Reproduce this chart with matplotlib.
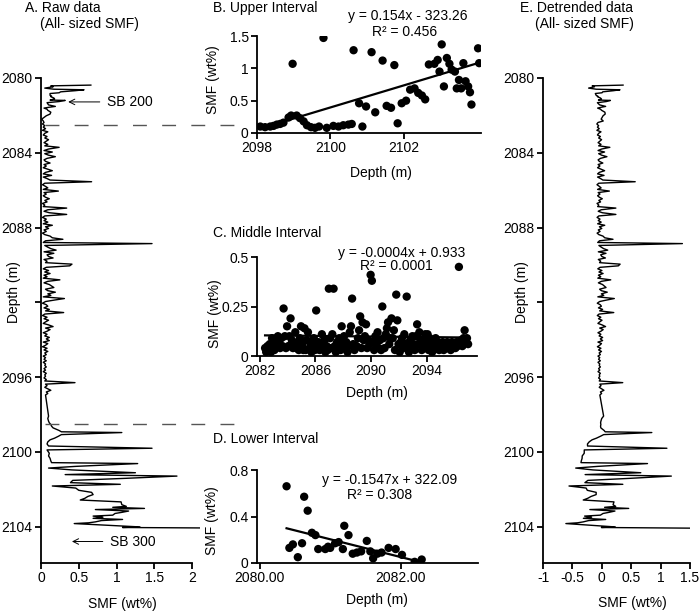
import numpy as np
import matplotlib
matplotlib.use("Agg")
import matplotlib.pyplot as plt

plt.rcParams["font.family"] = ["Liberation Sans", "DejaVu Sans"]
plt.rcParams["font.size"] = 10
plt.rcParams["axes.unicode_minus"] = False

# lower interval (D), depth in m, SMF in wt%
lower_depth = [2080.38, 2080.42, 2080.47, 2080.54, 2080.60, 2080.63, 2080.68, 2080.74, 2080.79,
               2080.83, 2080.93, 2080.97, 2081.00, 2081.07, 2081.12, 2081.18, 2081.20, 2081.26,
               2081.32, 2081.38, 2081.44, 2081.52, 2081.57, 2081.61, 2081.67, 2081.73, 2081.83,
               2081.93, 2082.02, 2082.20, 2082.30]
lower_smf = [0.66, 0.13, 0.16, 0.05, 0.17, 0.57, 0.45, 0.26, 0.24,
             0.12, 0.12, 0.14, 0.13, 0.17, 0.18, 0.12, 0.32, 0.24,
             0.08, 0.09, 0.10, 0.19, 0.10, 0.04, 0.08, 0.09, 0.13,
             0.12, 0.07, 0.01, 0.03]

# middle interval (C)
middle_depth = [2082.38, 2082.46, 2082.55, 2082.63, 2082.71, 2082.80, 2082.88, 2082.96, 2083.05, 2083.13,
                2083.21, 2083.30, 2083.38, 2083.46, 2083.55, 2083.63, 2083.71, 2083.80, 2083.88, 2083.96,
                2084.05, 2084.13, 2084.21, 2084.30, 2084.38, 2084.46, 2084.55, 2084.63, 2084.71, 2084.80,
                2084.88, 2084.96, 2085.05, 2085.13, 2085.21, 2085.30, 2085.38, 2085.46, 2085.55, 2085.63,
                2085.71, 2085.80, 2085.88, 2085.96, 2086.05, 2086.13, 2086.21, 2086.30, 2086.38, 2086.46,
                2086.55, 2086.63, 2086.71, 2086.80, 2086.88, 2086.96, 2087.05, 2087.13, 2087.21, 2087.30,
                2087.38, 2087.46, 2087.55, 2087.63, 2087.71, 2087.80, 2087.88, 2087.96, 2088.05, 2088.13,
                2088.21, 2088.30, 2088.38, 2088.46, 2088.55, 2088.63, 2088.71, 2088.80, 2088.86, 2088.96,
                2089.05, 2089.13, 2089.21, 2089.30, 2089.38, 2089.46, 2089.55, 2089.63, 2089.71, 2089.80,
                2089.88, 2089.96, 2090.05, 2090.13, 2090.21, 2090.30, 2090.38, 2090.46, 2090.55, 2090.63,
                2090.71, 2090.80, 2090.88, 2090.96, 2091.05, 2091.13, 2091.21, 2091.30, 2091.38, 2091.46,
                2091.55, 2091.63, 2091.71, 2091.80, 2091.88, 2091.96, 2092.05, 2092.13, 2092.21, 2092.30,
                2092.38, 2092.46, 2092.55, 2092.63, 2092.71, 2092.80, 2092.88, 2092.96, 2093.05, 2093.13,
                2093.21, 2093.30, 2093.38, 2093.46, 2093.55, 2093.63, 2093.71, 2093.80, 2093.88, 2093.96,
                2094.05, 2094.13, 2094.21, 2094.30, 2094.38, 2094.46, 2094.55, 2094.63, 2094.71, 2094.80,
                2094.88, 2094.96, 2095.05, 2095.13, 2095.21, 2095.30, 2095.38, 2095.46, 2095.55, 2095.63,
                2095.71, 2095.80, 2095.88, 2095.96, 2096.05, 2096.13, 2096.21, 2096.30, 2096.38, 2096.46,
                2096.55, 2096.63, 2096.71, 2096.80, 2096.88, 2096.96]
middle_smf = [0.04, 0.02, 0.05, 0.03, 0.06, 0.02, 0.09, 0.05, 0.03, 0.08,
              0.05, 0.10, 0.07, 0.04, 0.09, 0.05, 0.24, 0.10, 0.04, 0.15,
              0.05, 0.10, 0.19, 0.08, 0.04, 0.06, 0.12, 0.04, 0.07, 0.03,
              0.09, 0.15, 0.06, 0.03, 0.14, 0.03, 0.08, 0.12, 0.67, 0.05,
              0.02, 0.06, 0.09, 0.03, 0.23, 0.04, 0.07, 0.03, 0.06, 0.11,
              0.05, 0.08, 0.02, 0.05, 0.03, 0.34, 0.09, 0.04, 0.11, 0.34,
              0.05, 0.02, 0.07, 0.04, 0.09, 0.03, 0.15, 0.06, 0.10, 0.04,
              0.07, 0.02, 0.05, 0.12, 0.15, 0.29, 0.06, 0.03, 1.47, 0.05,
              0.09, 0.13, 0.20, 0.04, 0.17, 0.08, 0.10, 0.16, 0.04, 0.08,
              0.06, 0.41, 0.38, 0.07, 0.03, 0.10, 0.05, 0.12, 0.04, 0.08,
              0.03, 0.25, 0.09, 0.04, 0.11, 0.14, 0.17, 0.06, 0.09, 0.19,
              0.09, 0.13, 0.03, 0.31, 0.18, 0.06, 0.02, 0.07, 0.09, 0.04,
              0.11, 0.06, 0.30, 0.05, 0.02, 0.08, 0.04, 0.10, 0.06, 0.03,
              0.10, 0.16, 0.06, 0.12, 0.08, 0.03, 0.08, 0.05, 0.11, 0.07,
              0.11, 0.03, 0.09, 0.06, 0.02, 0.08, 0.04, 0.09, 0.05, 0.07,
              0.03, 0.06, 0.04, 0.07, 0.03, 0.06, 0.05, 0.07, 0.04, 0.06,
              0.03, 0.07, 0.05, 0.06, 0.04, 0.07, 0.05, 0.45, 0.06, 0.08,
              0.05, 0.09, 0.13, 0.07, 0.09, 0.06]

# upper interval (B)
upper_depth = [2098.09, 2098.22, 2098.36, 2098.45, 2098.54, 2098.63, 2098.72, 2098.86, 2098.93, 2098.97,
               2099.08, 2099.17, 2099.27, 2099.36, 2099.47, 2099.58, 2099.69, 2099.81, 2099.90, 2100.08,
               2100.22, 2100.35, 2100.49, 2100.58, 2100.63, 2100.78, 2100.87, 2100.97, 2101.12, 2101.22,
               2101.30, 2101.42, 2101.53, 2101.65, 2101.74, 2101.83, 2101.94, 2102.06, 2102.17, 2102.29,
               2102.39, 2102.49, 2102.58, 2102.68, 2102.83, 2102.92, 2102.97, 2103.03, 2103.09, 2103.17,
               2103.24, 2103.30, 2103.39, 2103.44, 2103.50, 2103.56, 2103.62, 2103.68, 2103.75, 2103.80,
               2103.84, 2104.02, 2104.05, 2104.09]
upper_smf = [0.10, 0.09, 0.10, 0.11, 0.13, 0.14, 0.16, 0.24, 0.27, 1.07,
             0.27, 0.23, 0.18, 0.12, 0.09, 0.08, 0.10, 1.47, 0.08, 0.11,
             0.10, 0.12, 0.13, 0.14, 1.28, 0.46, 0.10, 0.41, 1.25, 0.32,
             1.80, 1.12, 0.42, 0.39, 1.05, 0.15, 0.46, 0.50, 0.67, 0.69,
             0.62, 0.58, 0.52, 1.06, 1.07, 1.13, 0.95, 1.37, 0.72, 1.16,
             1.07, 0.98, 0.95, 0.69, 0.82, 0.69, 1.08, 0.80, 0.72, 0.63,
             0.44, 1.31, 1.08, 2.80]

interval_tops = [2082.5, 2098.5]

depth_ticks = [2080, 2084, 2088, 2092, 2096, 2100, 2104]
raw_ticks = [0, 0.5, 1, 1.5, 2]
detr_ticks = [-1, -0.5, 0, 0.5, 1, 1.5]

W, H = 700, 612


def box(x0, y0, x1, y1):
    return [x0 / W, 1 - y1 / H, (x1 - x0) / W, (y1 - y0) / H]


def style(ax):
    for s in ["top", "right"]:
        ax.spines[s].set_visible(False)
    for s in ["left", "bottom"]:
        ax.spines[s].set_linewidth(1.3)
    ax.tick_params(direction="out", length=4, width=1.3, labelsize=10, pad=2)


def label_at(ax, which, x, y):
    lab = ax.xaxis.label if which == "x" else ax.yaxis.label
    (ax.xaxis if which == "x" else ax.yaxis).set_label_coords(x, y)
    lab.set_va("center")
    lab.set_ha("center")


def fit(d, v):
    return np.polyfit(d, v, 1)


def fmt(v):
    return "%g" % v


d_all = np.array(lower_depth + middle_depth + upper_depth)
v_all = np.array(lower_smf + middle_smf + upper_smf)

parts = [(lower_depth, lower_smf), (middle_depth, middle_smf), (upper_depth, upper_smf)]
detr = []
for d, v in parts:
    c = fit(d, v)
    detr.extend(list(np.array(v) - np.polyval(c, d)))
detr = np.array(detr)

fig = plt.figure(figsize=(7, 6.12), dpi=100)

# A. raw profile
ax_a = fig.add_axes(box(41, 78, 199.6, 563))
ax_a.plot(v_all, d_all, color="black", lw=1.0)
ax_a.set_xlim(0, 2.1)
ax_a.set_ylim(2105.95, 2080)
ax_a.spines["bottom"].set_bounds(0, 2)
ax_a.set_xticks(raw_ticks)
ax_a.set_xticklabels([fmt(t) for t in raw_ticks])
ax_a.set_yticks(depth_ticks)
ax_a.set_yticklabels([str(t) if t != 2092 else "" for t in depth_ticks])
style(ax_a)
ax_a.set_xlabel("SMF (wt%)")
ax_a.set_ylabel("Depth (m)")
label_at(ax_a, "x", 0.51, -0.0845)
label_at(ax_a, "y", -0.17, 0.559)
for top in interval_tops:
    ax_a.plot([0.05, 2.74], [top, top], color="#555555", lw=1.0, ls=(0, (10, 11)), clip_on=False)
ax_a.annotate("SB 200", xy=(0.36, 2081.28), xytext=(0.87, 2081.28), va="center", fontsize=10,
              arrowprops=dict(arrowstyle="->", lw=0.7, color="black", shrinkA=3, shrinkB=0))
ax_a.annotate("SB 300", xy=(0.41, 2104.8), xytext=(0.91, 2104.8), va="center", fontsize=10,
              arrowprops=dict(arrowstyle="->", lw=0.7, color="black", shrinkA=3, shrinkB=0))
fig.text(25 / W, 1 - 8 / H, "A. Raw data", ha="left", va="center")
fig.text(40 / W, 1 - 24 / H, "(All- sized SMF)", ha="left", va="center")


def scatter_panel(rect, d, v, xlim, ylim, xt, xt_lab, yt, yt_lab, lab_pos, title, title_y, eq, r2, eq_xy, r2_xy):
    ax = fig.add_axes(box(*rect))
    ax.scatter(d, v, s=36, color="black", edgecolors="none", zorder=3)
    c = fit(d, v)
    xs = np.array([min(d), max(d)])
    ax.plot(xs, np.polyval(c, xs), color="black", lw=1.6, zorder=2)
    ax.set_xlim(*xlim)
    ax.set_ylim(*ylim)
    ax.set_xticks(xt)
    ax.set_xticklabels(xt_lab)
    ax.set_yticks(yt)
    ax.set_yticklabels(yt_lab)
    style(ax)
    ax.set_xlabel("Depth (m)")
    ax.set_ylabel("SMF (wt%)")
    label_at(ax, "x", lab_pos[0], lab_pos[1])
    label_at(ax, "y", lab_pos[2], lab_pos[3])
    fig.text(213 / W, 1 - title_y / H, title, ha="left", va="center")
    fig.text(eq_xy[0] / W, 1 - eq_xy[1] / H, eq, ha="center", va="center")
    fig.text(r2_xy[0] / W, 1 - r2_xy[1] / H, r2, ha="center", va="center")
    return ax


scatter_panel((257, 36, 481, 133), upper_depth, upper_smf, (2098, 2104.1), (0, 1.5),
              [2098, 2100, 2102], ["2098", "2100", "2102"],
              [0, 0.5, 1, 1.5], ["0", "0.5", "1", "1.5"],
              (0.554, -0.41, -0.196, 0.546), "B. Upper Interval", 8,
              "y = 0.154x - 323.26", "R² = 0.456", (408, 16), (405, 32))

scatter_panel((257, 257, 477, 356), middle_depth, middle_smf, (2081.8, 2097.6), (0, 0.5),
              [2082, 2086, 2090, 2094], ["2082", "2086", "2090", "2094"],
              [0, 0.25, 0.5], ["0", "0.25", "0.5"],
              (0.545, -0.374, -0.19, 0.424), "C. Middle Interval", 233,
              "y = -0.0004x + 0.933", "R² = 0.0001", (402, 253), (396, 266))

scatter_panel((257, 470, 478, 563), lower_depth, lower_smf, (2079.96, 2083.1), (0, 0.8),
              [2080, 2082], ["2080.00", "2082.00"],
              [0, 0.4, 0.8], ["0", "0.4", "0.8"],
              (0.543, -0.40, -0.204, 0.46), "D. Lower Interval", 439,
              "y = -0.1547x + 322.09", "R² = 0.308", (390, 480), (380, 495))

# E. detrended profile
ax_e = fig.add_axes(box(543, 78, 690, 563))
ax_e.plot(detr, d_all, color="black", lw=1.0)
ax_e.set_xlim(-1, 1.5)
ax_e.set_ylim(2105.95, 2080)
ax_e.set_xticks(detr_ticks)
ax_e.set_xticklabels([fmt(t) for t in detr_ticks])
ax_e.set_yticks(depth_ticks)
ax_e.set_yticklabels([str(t) if t != 2092 else "" for t in depth_ticks])
style(ax_e)
ax_e.set_xlabel("SMF (wt%)")
ax_e.set_ylabel("Depth (m)")
label_at(ax_e, "x", 0.605, -0.0825)
label_at(ax_e, "y", -0.143, 0.559)
fig.text(520 / W, 1 - 8 / H, "E. Detrended data", ha="left", va="center")
fig.text(535 / W, 1 - 24 / H, "(All- sized SMF)", ha="left", va="center")

fig.savefig("out.png", dpi=100, facecolor="white")
